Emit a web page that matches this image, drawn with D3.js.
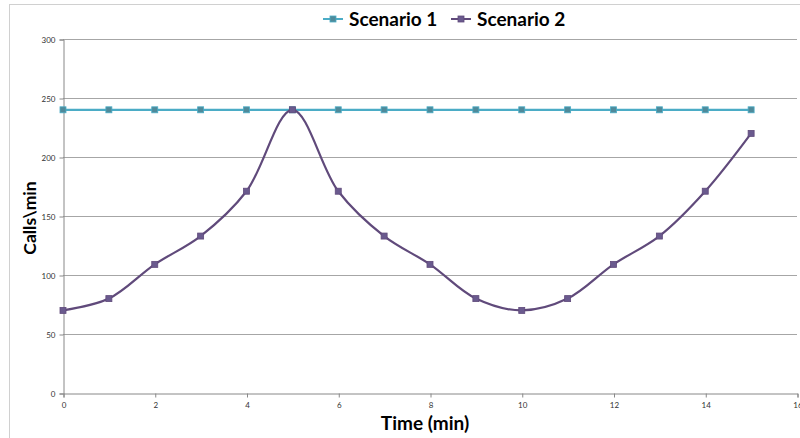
<!DOCTYPE html>
<html><head><meta charset="utf-8">
<script src="https://cdn.jsdelivr.net/npm/d3@7/dist/d3.min.js"></script>
<style>body{margin:0;background:#fff;}svg{display:block;}</style>
</head><body>
<svg id="c" width="800" height="438"></svg>
<script>
const times = [0,1,2,3,4,5,6,7,8,9,10,11,12,13,14,15];
const scenario1 = [240,240,240,240,240,240,240,240,240,240,240,240,240,240,240,240];
const scenario2 = [70,80,109,133,171,240,171,133,109,80,70,80,109,133,171,220];
const seriesNames = ["Scenario 1","Scenario 2"];
const yTicks = [0,50,100,150,200,250,300];
const xTicks = [0,2,4,6,8,10,12,14,16];

const svg = d3.select("#c");
const font = "Lato, 'Open Sans', sans-serif";
// outer chart border
svg.append("rect").attr("x",9.5).attr("y",4.5).attr("width",800).attr("height",450)
  .attr("fill","none").attr("stroke","#d0d0d0").attr("stroke-width",1);

const x = d3.scaleLinear().domain([0,16]).range([63,797]);
const y = d3.scaleLinear().domain([0,300]).range([393,39]);

// gridlines
svg.append("g").selectAll("line").data(yTicks.filter(d=>d>0)).join("line")
  .attr("x1",63).attr("x2",797).attr("y1",d=>Math.round(y(d))+0.5).attr("y2",d=>Math.round(y(d))+0.5)
  .attr("stroke","#a6a6a6").attr("stroke-width",1);

const yAxis = svg.append("g").attr("transform","translate(63.5,0.5)")
  .call(d3.axisLeft(y).tickValues(yTicks).tickSize(4).tickPadding(4));
const xAxis = svg.append("g").attr("transform","translate(0.5,393.5)")
  .call(d3.axisBottom(x).tickValues(xTicks).tickSize(4).tickPadding(5));
[yAxis,xAxis].forEach(g=>{
  g.select(".domain").attr("stroke","#888");
  g.selectAll(".tick line").attr("stroke","#888");
  g.selectAll("text").attr("font-family",font).attr("font-size",8).attr("fill","#333");
});

const colors = ["#4bacc6","#604a7b"];
const markerFill = ["#4f8a9a","#6a5a8e"];
const data = [scenario1, scenario2];
const line = d3.line().x((d,i)=>x(times[i])).y(d=>y(d)).curve(d3.curveCatmullRom.alpha(0.5));
data.forEach((s,k)=>{
  svg.append("path").attr("d",line(s)).attr("fill","none").attr("stroke",colors[k]).attr("stroke-width",2.2);
  svg.append("g").selectAll("rect").data(s).join("rect")
    .attr("x",(d,i)=>x(times[i])-3).attr("y",d=>y(d)-3).attr("width",6).attr("height",6)
    .attr("fill",markerFill[k]).attr("stroke",colors[k]).attr("stroke-width",0.8);
});

// legend
const lg = svg.append("g");
const legendX = [323, 451];
seriesNames.forEach((n,k)=>{
  const lx = legendX[k];
  lg.append("line").attr("x1",lx).attr("x2",lx+20).attr("y1",19).attr("y2",19).attr("stroke",colors[k]).attr("stroke-width",2);
  lg.append("rect").attr("x",lx+7).attr("y",16).attr("width",6).attr("height",6).attr("fill",markerFill[k]).attr("stroke",colors[k]).attr("stroke-width",0.8);
  lg.append("text").attr("x",lx+26).attr("y",26).text(n).attr("font-family",font).attr("font-weight","bold").attr("font-size",19).attr("fill","#000");
});

svg.append("text").attr("x",425).attr("y",430).attr("text-anchor","middle").text("Time (min)")
  .attr("font-family",font).attr("font-weight","bold").attr("font-size",19).attr("fill","#000");
svg.append("text").attr("transform","translate(36,218) rotate(-90)").attr("text-anchor","middle").text("Calls\\min")
  .attr("font-family",font).attr("font-weight","bold").attr("font-size",17.5).attr("fill","#000");
</script>
</body></html>
